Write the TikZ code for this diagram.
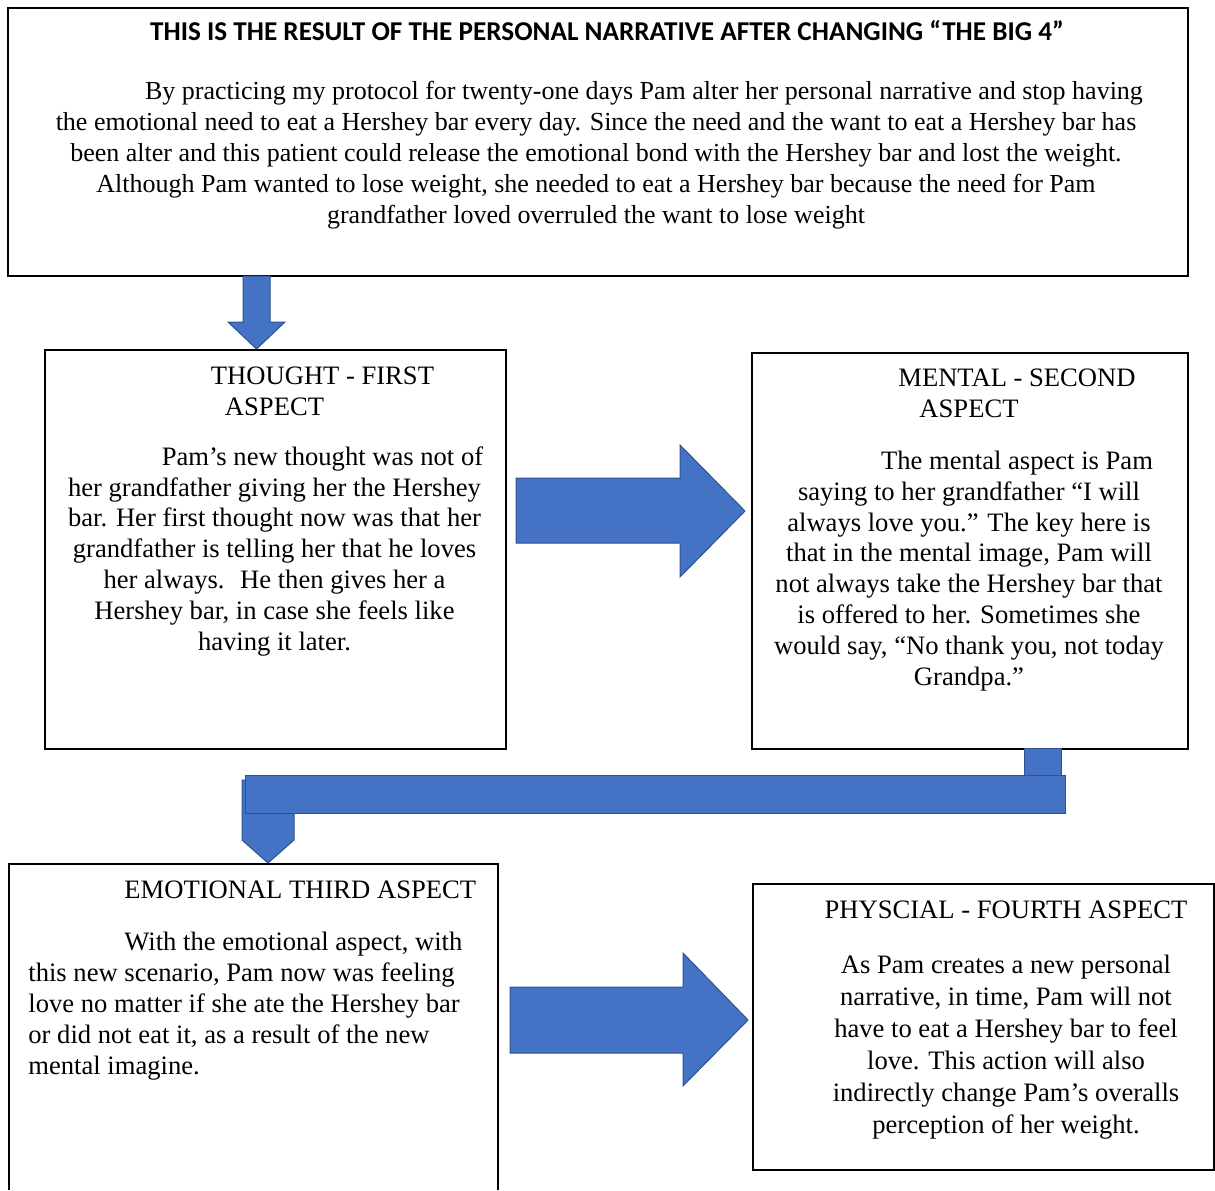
\documentclass[tikz,border=0pt]{standalone}
\usepackage{fontspec}
\setmainfont{Liberation Serif}
\newfontfamily\headfont{Carlito}
\usetikzlibrary{positioning}
\definecolor{arrowfill}{HTML}{4472C4}
\definecolor{arrowline}{HTML}{2F528F}

\begin{document}
\begin{tikzpicture}[x=0.5pt, y=-0.5pt,
  box/.style={draw, line width=0.75pt, inner sep=0pt, anchor=north west},
  body/.style={font=\fontsize{13.3}{15.4}\selectfont, inner sep=0pt, anchor=base, align=center},
  bodyleft/.style={body, anchor=base west, align=left},
  blockarrow/.style={fill=arrowfill, draw=arrowline, line width=0.5pt, line join=miter}]
\useasboundingbox (0,0) rectangle (1215,1190);
%% boxes
\node[box, line width=1pt, minimum width=590pt, minimum height=134pt] (narr) at (7,7) {};
\node[box, minimum width=230.5pt, minimum height=199.5pt] (thought) at (44,349) {};
\node[box, minimum width=218pt, minimum height=198pt] (mental) at (751,352) {};
\node[box, minimum width=230.5pt, minimum height=143pt] (physical) at (752,883) {};
%% the third box runs off the page, no bottom line
\draw[line width=0.75pt] (9,1190) -- (9,864) -- (498,864) -- (498,1190);
%% block arrows
\draw[blockarrow] (243,276) -- (270,276) -- (270,322) -- (285,322) -- (256.5,349) -- (228,322) -- (243,322) -- cycle;
\draw[blockarrow] (516,478) -- (680,478) -- (680,445) -- (745,511) -- (680,577) -- (680,543) -- (516,543) -- cycle;
\draw[blockarrow] (1024,748) rectangle (1061,776);
\draw[blockarrow] (242,780) -- (294,780) -- (294,840) -- (268,863) -- (242,840) -- cycle;
\draw[blockarrow] (245,775) rectangle (1065,813);
\draw[blockarrow] (510,987) -- (683,987) -- (683,953) -- (748,1020) -- (683,1086) -- (683,1053) -- (510,1053) -- cycle;
%% texts (base = last line)
\node[inner sep=0pt, anchor=base, font=\headfont\bfseries\fontsize{13.6}{15}\selectfont] (title) at (607,40)
  {THIS IS THE RESULT OF THE PERSONAL NARRATIVE AFTER CHANGING “THE BIG 4”};
\node[body, font=\fontsize{13}{15.4}\selectfont] (narrtext) at (596,223) {\hspace*{48pt}By practicing my protocol for twenty-one days Pam alter her personal narrative and stop having\\
  the emotional need to eat a Hershey bar every day. Since the need and the want to eat a Hershey bar has\\
  been alter and this patient could release the emotional bond with the Hershey bar and lost the weight.\\
  Although Pam wanted to lose weight, she needed to eat a Hershey bar because the need for Pam\\
  grandfather loved overruled the want to lose weight};
\node[body] (thoughthead) at (274.5,415) {\hspace*{48pt}THOUGHT - FIRST\\ASPECT};
\node[body] (thoughttext) at (274.5,650) {\hspace*{48pt}Pam’s new thought was not of\\
  her grandfather giving her the Hershey\\
  bar. Her first thought now was that her\\
  grandfather is telling her that he loves\\
  her always.~ He then gives her a\\
  Hershey bar, in case she feels like\\
  having it later.};
\node[body] (mentalhead) at (969,417) {\hspace*{48pt}MENTAL - SECOND\\ASPECT};
\node[body] (mentaltext) at (969,685) {\hspace*{48pt}The mental aspect is Pam\\
  saying to her grandfather “I will\\
  always love you.” The key here is\\
  that in the mental image, Pam will\\
  not always take the Hershey bar that\\
  is offered to her. Sometimes she\\
  would say, “No thank you, not today\\
  Grandpa.”};
\node[bodyleft] (emohead) at (124,898) {EMOTIONAL THIRD ASPECT};
\node[bodyleft] (emotext) at (28,1074) {\hspace*{48pt}With the emotional aspect, with\\
  this new scenario, Pam now was feeling\\
  love no matter if she ate the Hershey bar\\
  or did not eat it, as a result of the new\\
  mental imagine.};
\node[body] (physhead) at (1006,918) {PHYSCIAL - FOURTH ASPECT};
\node[body, font=\fontsize{13.3}{16}\selectfont] (phystext) at (1006,1133) {As Pam creates a new personal\\
  narrative, in time, Pam will not\\
  have to eat a Hershey bar to feel\\
  love. This action will also\\
  indirectly change Pam’s overalls\\
  perception of her weight.};
\end{tikzpicture}
\end{document}
